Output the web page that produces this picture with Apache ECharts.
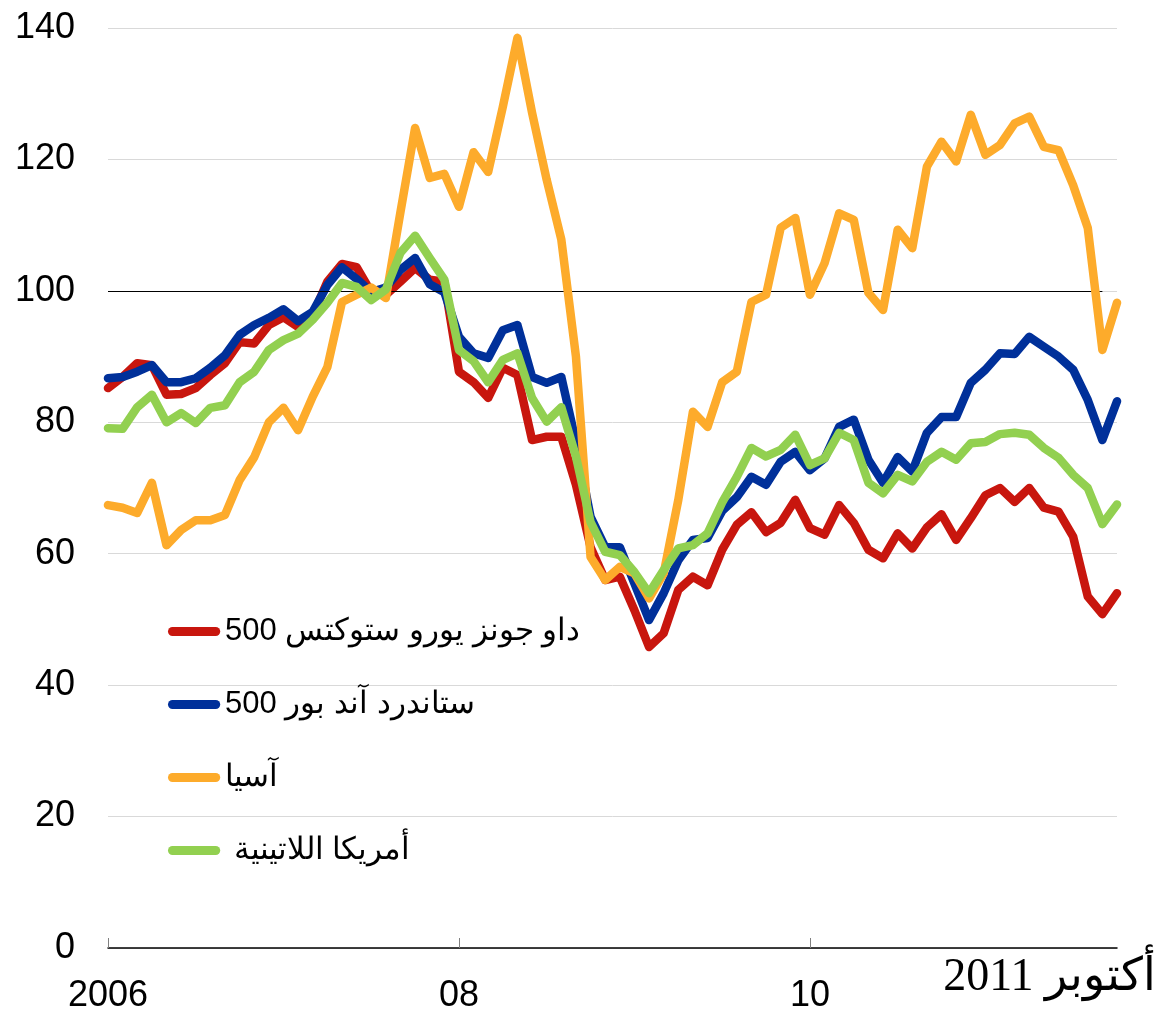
<!DOCTYPE html>
<html>
<head>
<meta charset="utf-8">
<script src="https://cdn.jsdelivr.net/npm/echarts@6/dist/echarts.min.js"></script>
<style>
html,body{margin:0;padding:0;background:#fff;}
#chart{width:1157px;height:1015px;}
</style>
</head>
<body>
<div id="chart"></div>
<script>
// Monthly, Jan 2006 .. Oct 2011 (70 months)
var months = [];
for (var y = 2006; y <= 2011; y++) {
  for (var m = 1; m <= 12; m++) {
    if (y === 2011 && m > 10) break;
    months.push(y + '-' + (m < 10 ? '0' + m : m));
  }
}
var xTickLabels = {0: '2006', 24: '08', 48: '10'};
var lastLabel = '2011 أكتوبر';
var yTicks = [0, 20, 40, 60, 80, 100, 120, 140];

var seriesNames = [
  '500 داو جونز يورو ستوكتس',
  '500 ستاندرد آند بور',
  'آسيا',
  ' أمريكا اللاتينية'
];

var euroStoxx = [85.2,86.9,89.0,88.7,84.2,84.3,85.2,87.2,89.0,92.2,92.0,94.8,96.0,94.5,96.3,101.4,104.1,103.6,99.8,99.4,101.4,103.5,101.7,101.4,87.7,86.1,83.7,88.3,87.2,77.3,77.8,77.8,70.5,61.0,56.0,56.5,51.4,45.8,47.9,54.5,56.5,55.2,60.6,64.4,66.3,63.3,64.7,68.2,63.9,62.9,67.4,64.7,60.6,59.3,63.1,60.8,64.0,66.0,62.1,65.4,68.9,70.0,67.9,70.0,67.0,66.4,62.6,53.5,50.8,54.0];
var sp500 = [86.7,86.9,87.7,88.7,86.1,86.1,86.7,88.3,90.2,93.3,94.8,95.9,97.2,95.4,96.8,100.9,103.6,101.8,99.8,100.5,103.2,105.0,101.0,99.8,93.0,90.5,89.8,94.0,94.8,86.9,86.0,86.9,77.0,65.6,61.0,61.0,55.5,49.9,54.0,59.0,62.1,62.4,66.5,68.6,71.7,70.5,74.0,75.5,72.7,74.5,79.3,80.4,74.3,70.8,74.7,72.5,78.4,80.8,80.8,86.0,88.0,90.5,90.4,93.0,91.5,90.0,88.0,83.4,77.3,83.2];
var asia = [67.4,67.0,66.2,70.8,61.3,63.6,65.1,65.1,65.9,71.2,74.7,80.0,82.2,78.8,83.9,88.4,98.3,99.4,100.5,98.9,112.0,124.8,117.2,117.8,112.8,121.1,118.1,128.0,138.5,127.1,116.9,107.8,90.0,59.5,56.0,58.0,57.0,53.2,57.0,68.2,81.6,79.3,86.1,87.7,98.3,99.4,109.6,111.1,99.4,104.2,111.8,110.8,99.7,97.1,109.3,106.5,118.9,122.7,119.7,126.8,120.7,122.2,125.5,126.5,121.9,121.4,116.1,109.6,91.0,98.2];
var latam = [79.1,79.0,82.3,84.2,80.0,81.4,79.9,82.2,82.6,86.1,87.7,91.0,92.5,93.5,95.6,98.2,101.2,100.6,98.6,100.2,105.8,108.4,105.0,101.7,91.0,89.3,86.1,89.5,90.5,83.7,80.1,82.3,74.8,64.8,60.3,59.8,57.2,54.0,57.5,60.8,61.3,63.1,67.8,71.7,76.1,74.8,75.8,78.1,73.5,74.5,78.4,77.3,70.8,69.2,72.0,71.0,74.0,75.5,74.3,76.8,77.0,78.2,78.4,78.1,76.1,74.6,72.0,70.0,64.5,67.5];

var colors = ['#C8160E', '#00309A', '#FDAB2B', '#92D050'];
var seriesData = [euroStoxx, sp500, asia, latam];

var chart = echarts.init(document.getElementById('chart'), null, {renderer: 'canvas'});

function mkSeries(i) {
  var s = {
    name: seriesNames[i],
    type: 'line',
    data: seriesData[i],
    showSymbol: false,
    symbol: 'none',
    smooth: false,
    z: 3 + i,
    lineStyle: {color: colors[i], width: 8.5, cap: 'round', join: 'round'},
    itemStyle: {color: colors[i]},
    emphasis: {disabled: true}
  };
  if (i === 0) {
    s.markLine = {
      silent: true,
      symbol: ['none', 'none'],
      label: {show: false},
      lineStyle: {color: '#000', width: 1.2, type: 'solid'},
      emphasis: {disabled: true},
      data: [[{coord: [months[0], 100]}, {coord: [months[68], 100]}]]
    };
  }
  return s;
}

var capsule = 'path://M5,0 L53,0 A5,5 0 0 1 53,10 L5,10 A5,5 0 0 1 5,0 Z';

var option = {
  animation: false,
  backgroundColor: '#fff',
  grid: {left: 108, right: 40, top: 28, bottom: 67, containLabel: false},
  legend: {
    orient: 'vertical',
    left: 163,
    top: 611,
    itemWidth: 58,
    itemHeight: 9,
    itemGap: 42,
    icon: capsule,
    selectedMode: false,
    textStyle: {fontSize: 31, color: '#000', fontFamily: 'Liberation Sans, Arial, sans-serif', padding: [0,0,0,-3]},
    data: seriesNames.map(function (n, i) { return {name: n, itemStyle: {color: colors[i]}}; })
  },
  xAxis: {
    type: 'category',
    boundaryGap: false,
    data: months,
    axisLine: {show: true, lineStyle: {color: '#000', width: 1.5}},
    axisTick: {
      show: true, inside: true, length: 10,
      interval: function (idx) { return xTickLabels.hasOwnProperty(idx); },
      lineStyle: {color: '#808080', width: 1}
    },
    axisLabel: {
      show: true,
      interval: function (idx) { return xTickLabels.hasOwnProperty(idx); },
      formatter: function (val, idx) { return xTickLabels[idx] || ''; },
      fontSize: 36,
      color: '#000',
      fontFamily: 'Liberation Sans, Arial, sans-serif',
      margin: 30
    },
    splitLine: {show: false}
  },
  yAxis: {
    type: 'value',
    min: yTicks[0],
    max: yTicks[yTicks.length - 1],
    interval: 20,
    axisLine: {show: false},
    axisTick: {show: false},
    axisLabel: {fontSize: 36, color: '#000', fontFamily: 'Liberation Sans, Arial, sans-serif', margin: 33},
    splitLine: {show: true, lineStyle: {color: '#d9d9d9', width: 1}}
  },
  graphic: [{
    type: 'text',
    right: 1,
    top: 955,
    silent: true,
    style: {
      text: lastLabel,
      font: '46px "Liberation Serif", "DejaVu Serif", serif',
      fill: '#000'
    }
  }],
  series: [0, 1, 2, 3].map(mkSeries)
};
chart.setOption(option);
</script>
</body>
</html>
